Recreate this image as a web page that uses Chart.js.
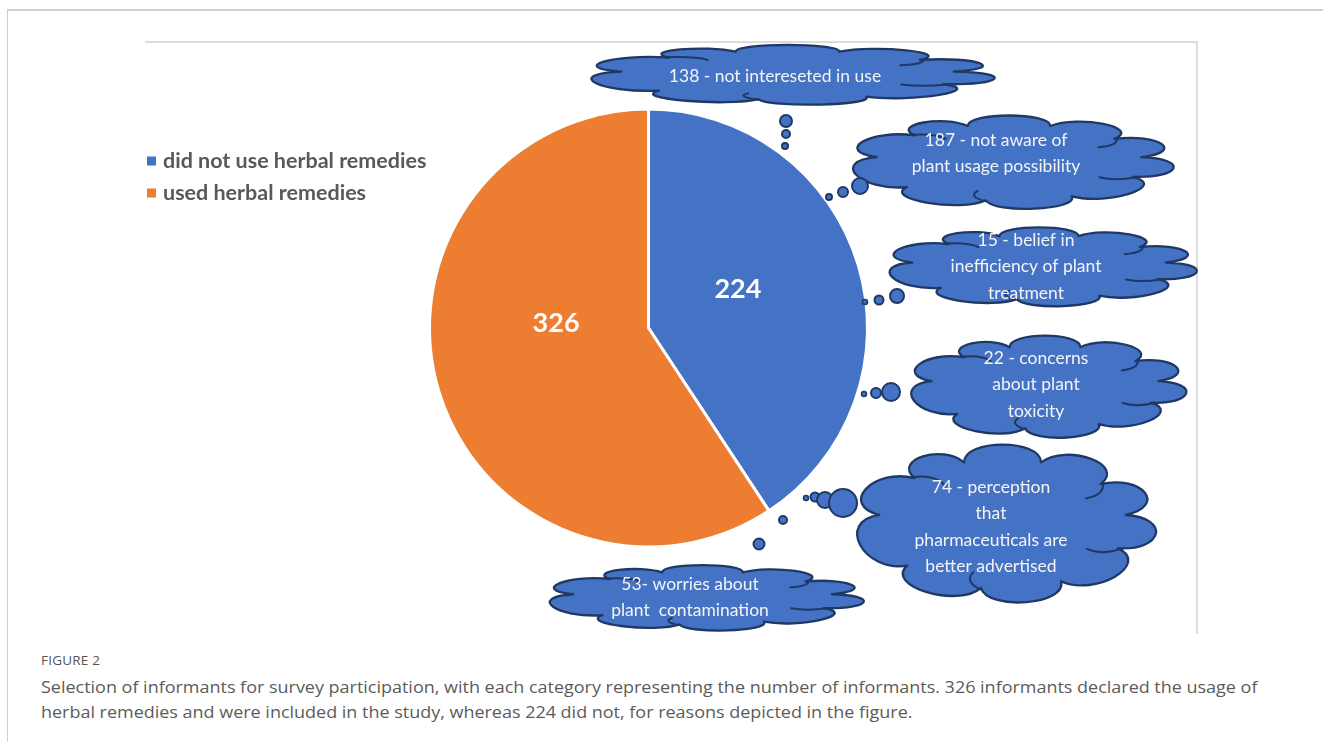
<!DOCTYPE html>
<html>
<head>
<meta charset="utf-8">
<script src="https://cdn.jsdelivr.net/npm/chart.js@4.4.1/dist/chart.umd.min.js"></script>
<style>
  html, body { margin:0; padding:0; background:#fff; }
  body { width:1323px; height:742px; position:relative; overflow:hidden; font-family:"Open Sans", sans-serif; }
  #page { position:absolute; left:7px; top:9px; right:-5px; bottom:-5px; border-left:1px solid #cfcfcf; border-top:2px solid #cfcfcf; }
  #frame { position:absolute; left:145px; top:41px; width:1051px; height:591px; border-top:2px solid #dcdcdc; border-right:2px solid #dcdcdc; }
  #chart { position:absolute; left:0; top:0; }
  .cap { position:absolute; left:41px; white-space:nowrap; color:#5b5b5b; transform-origin:0 50%; }
  #figNo { top:651px; font-size:13.5px; color:#555; letter-spacing:0.2px; }
  #line1 { top:676px; font-size:16px; }
  #line2 { top:701px; font-size:16px; }
</style>
</head>
<body>
<div id="page"></div>
<div id="frame"></div>
<canvas id="chart" width="1323" height="640"></canvas>
<div class="cap" id="figNo">FIGURE 2</div>
<div class="cap" id="line1">Selection of informants for survey participation, with each category representing the number of informants. 326 informants declared the usage of</div>
<div class="cap" id="line2">herbal remedies and were included in the study, whereas 224 did not, for reasons depicted in the figure.</div>
<script>
// pie data
const categories = ['did not use herbal remedies', 'used herbal remedies'];
const counts = [224, 326];
const sliceColors = ['#4472C4', '#ED7D31'];

// reasons for not using herbal remedies (one cloud each)
const reasonCounts = [138, 187, 15, 22, 74, 53];
const reasonLines = [
  [' - not intereseted in use'],
  [' - not aware of', 'plant usage possibility'],
  [' - belief in', 'inefficiency of plant', 'treatment'],
  [' - concerns', 'about plant', 'toxicity'],
  [' - perception', 'that', 'pharmaceuticals are', 'better advertised'],
  ['- worries about', 'plant  contamination']
];

// cloud placement: box, text anchor, thought bubbles
const cloudLayout = [
  { box:[575, 44, 425, 62],  text:[775, 76],  bubbles:[[786,121,6],[786,134,4],[785,146,3]] },
  { box:[840, 114, 338, 97], text:[996, 140], bubbles:[[829,197,3],[843,192,5],[860,186,8]] },
  { box:[877, 226, 324, 82], text:[1026, 240], bubbles:[[865,302,2.5],[879,300,4.5],[897,296,7]] },
  { box:[900, 334, 290, 106], text:[1036, 358], bubbles:[[864,394,2.5],[876,393,5],[891,392,9]] },
  { box:[845, 442, 315, 164], text:[991, 487], bubbles:[[806,498,2.5],[815,497,4.5],[825,500,8],[843,503,14]] },
  { box:[537, 564, 331, 68], text:[690, 584], bubbles:[[783,520,4],[759,544,5.5]] }
];

const CLOUD_FILL = '#4472C4';
const CLOUD_LINE = '#1f3864';
// puff boundaries (degrees) on a unit cloud, stretched into each box
const PUFF_ANGLES = [-172, -135, -108, -72, -38, -8, 22, 62, 100, 140];
const CREASES = [1, 4, 6, 8];

function drawCloud(ctx, x, y, w, h) {
  const rb = 0.395;
  const map = (u, v) => [x + (0.5 + u) * w, y + (0.5 + v) * h];
  const pts = PUFF_ANGLES.map(d => {
    const a = d * Math.PI / 180;
    return [rb * Math.cos(a), rb * Math.sin(a), a];
  });
  const n = pts.length;
  ctx.beginPath();
  let p = map(pts[0][0], pts[0][1]);
  ctx.moveTo(p[0], p[1]);
  for (let i = 0; i < n; i++) {
    const p0 = pts[i], p1 = pts[(i + 1) % n];
    let a1 = p1[2];
    if (a1 < p0[2]) a1 += Math.PI * 2;
    const am = (p0[2] + a1) / 2;
    const chord = Math.hypot(p1[0] - p0[0], p1[1] - p0[1]);
    const bulge = Math.min(0.145, chord * 0.72);
    const nx = Math.cos(am) * bulge, ny = Math.sin(am) * bulge;
    const c1 = map(p0[0] + nx, p0[1] + ny), c2 = map(p1[0] + nx, p1[1] + ny), e = map(p1[0], p1[1]);
    ctx.bezierCurveTo(c1[0], c1[1], c2[0], c2[1], e[0], e[1]);
  }
  ctx.closePath();
  ctx.fillStyle = CLOUD_FILL;
  ctx.fill();
  ctx.lineWidth = 2.3;
  ctx.strokeStyle = CLOUD_LINE;
  ctx.stroke();
  // short creases where neighbouring puffs overlap
  ctx.lineWidth = 2;
  CREASES.forEach(i => {
    const q = pts[i], a = q[2];
    const s = map(q[0] + Math.cos(a) * 0.01, q[1] + Math.sin(a) * 0.01);
    const c = map(q[0] - Math.cos(a) * 0.03 - Math.sin(a) * 0.06, q[1] - Math.sin(a) * 0.03 + Math.cos(a) * 0.06);
    const e = map(q[0] - Math.cos(a) * 0.09 - Math.sin(a) * 0.04, q[1] - Math.sin(a) * 0.09 + Math.cos(a) * 0.04);
    ctx.beginPath();
    ctx.moveTo(s[0], s[1]);
    ctx.quadraticCurveTo(c[0], c[1], e[0], e[1]);
    ctx.stroke();
  });
}

const cloudPlugin = {
  id: 'clouds',
  afterDraw(chart) {
    const ctx = chart.ctx;
    ctx.save();
    ctx.lineJoin = 'round';
    ctx.lineCap = 'round';
    cloudLayout.forEach((c, i) => {
      drawCloud(ctx, ...c.box);
      c.bubbles.forEach(([bx, by, r]) => {
        ctx.beginPath();
        ctx.arc(bx, by, r, 0, Math.PI * 2);
        ctx.fillStyle = CLOUD_FILL;
        ctx.fill();
        ctx.lineWidth = r < 3 ? 1.5 : 2;
        ctx.strokeStyle = CLOUD_LINE;
        ctx.stroke();
      });
      const lines = reasonLines[i].slice();
      lines[0] = reasonCounts[i] + lines[0];
      ctx.fillStyle = '#f4f4f4';
      ctx.font = '17.5px Lato, "Open Sans", sans-serif';
      ctx.textAlign = 'center';
      ctx.textBaseline = 'middle';
      lines.forEach((t, k) => ctx.fillText(t, c.text[0], c.text[1] + k * 26.5));
    });
    ctx.restore();
  }
};

// legend on the left, drawn from the dataset
const legendPlugin = {
  id: 'sideLegend',
  afterDraw(chart) {
    const ctx = chart.ctx, ds = chart.data.datasets[0];
    ctx.save();
    ctx.font = 'bold 21.5px Lato, "Open Sans", sans-serif';
    ctx.textBaseline = 'middle';
    chart.data.labels.forEach((lab, i) => {
      const y = 161 + i * 32;
      ctx.fillStyle = ds.backgroundColor[i];
      ctx.fillRect(147, y - 4.5, 9, 9);
      ctx.fillStyle = '#595959';
      ctx.fillText(lab, 163, y);
    });
    ctx.restore();
  }
};

// value labels inside the slices
const valuePlugin = {
  id: 'sliceValues',
  afterDatasetsDraw(chart, args, opts) {
    const ctx = chart.ctx, meta = chart.getDatasetMeta(0);
    ctx.save();
    ctx.font = 'bold 27px Lato, "Open Sans", sans-serif';
    ctx.fillStyle = '#ffffff';
    ctx.textAlign = 'center';
    ctx.textBaseline = 'middle';
    meta.data.forEach((arc, i) => {
      const p = arc.getProps(['x', 'y', 'startAngle', 'endAngle', 'outerRadius'], true);
      const mid = (p.startAngle + p.endAngle) / 2;
      const r = p.outerRadius * 0.45;
      const off = opts.offsets[i] || [0, 0];
      ctx.fillText(String(chart.data.datasets[0].data[i]), p.x + Math.cos(mid) * r + off[0], p.y + Math.sin(mid) * r + off[1]);
    });
    ctx.restore();
  }
};

new Chart(document.getElementById('chart'), {
  type: 'pie',
  data: {
    labels: categories,
    datasets: [{
      data: counts,
      backgroundColor: sliceColors,
      borderColor: '#ffffff',
      borderWidth: 3
    }]
  },
  options: {
    responsive: false,
    animation: false,
    devicePixelRatio: 1,
    layout: { padding: { left: 428, top: 107, right: 454, bottom: 91 } },
    plugins: {
      legend: { display: false },
      tooltip: { enabled: false },
      sliceValues: { offsets: [[-5, -10], [2, -33]] }
    }
  },
  plugins: [valuePlugin, cloudPlugin, legendPlugin]
});

// squeeze the caption lines to the column width
function fitCaption() {
  const l1 = document.getElementById('line1'), l2 = document.getElementById('line2');
  const s = 1217 / l1.offsetWidth;
  [l1, l2].forEach(el => el.style.transform = 'scaleX(' + s + ')');
}
if (document.fonts && document.fonts.ready) document.fonts.ready.then(fitCaption);
fitCaption();
</script>
</body>
</html>
